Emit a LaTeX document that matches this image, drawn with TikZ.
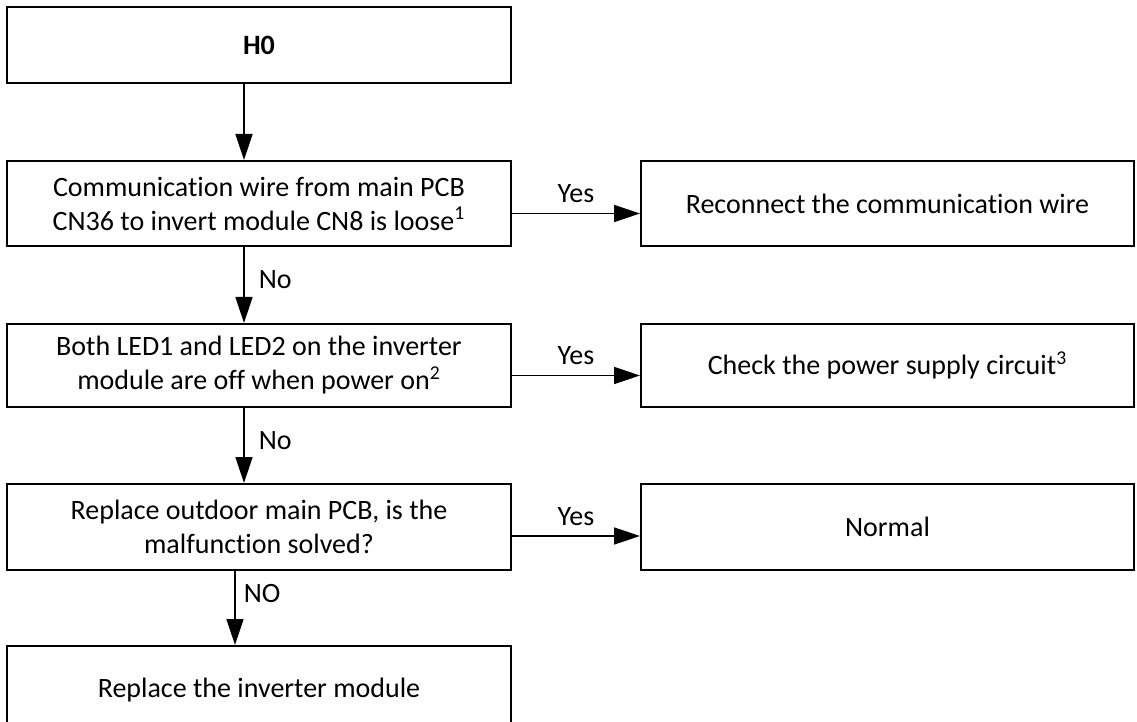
\documentclass[tikz,border=0pt]{standalone}
\usepackage{fontspec}
\setmainfont{Carlito}[Ligatures=NoCommon]
\usetikzlibrary{arrows.meta,positioning,calc}

\begin{document}
\begin{tikzpicture}[
    x=0.5pt,y=-0.5pt,
    every node/.style = {font=\fontsize{14}{17}\selectfont},
    chk/.style  = {rectangle,draw=black,line width=1pt,fill=white,inner sep=0pt,
                   align=center,minimum width=252pt},
    act/.style  = {rectangle,draw=black,line width=1pt,fill=white,inner sep=0pt,
                   align=center,minimum width=246.5pt},
    fl/.style   = {-{Triangle[length=13pt,width=8.5pt]},black,line width=0.75pt},
    tag/.style  = {inner sep=0pt},
  ]
  \useasboundingbox (0,0) rectangle (1137,722);

  \node[chk,minimum height=38pt]   (h0)  at (259,45)    {\textbf{H0}};
  \node[chk,minimum height=42.5pt] (wir) at (259,203.5) {Communication wire from main PCB\\
        CN36 to invert module CN8 is loose\textsuperscript{1}};
  \node[chk,minimum height=41.5pt] (led) at (259,365.5) {Both LED1 and LED2 on the inverter\\
        module are off when power on\textsuperscript{2}};
  \node[chk,minimum height=43pt]   (pcb) at (259,527)   {Replace outdoor main PCB, is the\\
        malfunction solved?};
  \node[chk,minimum height=44pt]   (rep) at (259,690)   {Replace the inverter module};

  \node[act,minimum height=42.5pt] (rec) at (887.5,203.5) {Reconnect the communication wire};
  \node[act,minimum height=41.5pt] (pwr) at (887.5,365.5) {Check the power supply circuit\textsuperscript{3}};
  \node[act,minimum height=43pt]   (nrm) at (887.5,527)   {Normal};

  \draw[fl] ([xshift=-7.5pt]h0.south) -- ([xshift=-7.5pt]wir.north);
  \draw[fl] ([xshift=-7.5pt]wir.south) -- node[tag,right=7pt,pos=0.43]{No} ([xshift=-7.5pt]led.north);
  \draw[fl] ([xshift=-7.5pt]led.south) -- node[tag,right=7pt,pos=0.43]{No} ([xshift=-7.5pt]pcb.north);
  \draw[fl] ([xshift=-12pt]pcb.south) -- node[tag,right=4pt,pos=0.3]{NO} ([xshift=-12pt]rep.north);

  \draw[fl] ([yshift=-5pt]wir.east) -- node[tag,above=5pt]{Yes} ([yshift=-5pt]rec.west);
  \draw[fl] ([yshift=-5pt]led.east) -- node[tag,above=5pt]{Yes} ([yshift=-5pt]pwr.west);
  \draw[fl] ([yshift=-4.5pt]pcb.east) -- node[tag,above=5pt]{Yes} ([yshift=-4.5pt]nrm.west);

\end{tikzpicture}
\end{document}
